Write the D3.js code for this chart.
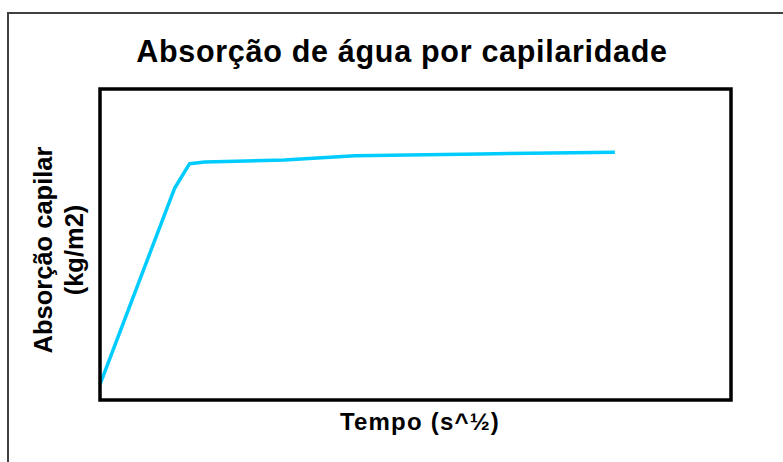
<!DOCTYPE html>
<html>
<head>
<meta charset="utf-8">
<script src="https://cdn.jsdelivr.net/npm/d3@7"></script>
<style>
  body { margin: 0; background: #fff; }
  svg text { font-family: "Liberation Sans", Arial, sans-serif; font-weight: bold; fill: #000; }
</style>
</head>
<body>
<svg id="chart"></svg>
<script>
// values (no ticks shown, so units are estimated)
var tempo = [0, 5.9, 7.1, 8.3, 14.6, 20.2, 30.1, 40.8];
var absorcao = [0.5, 6.8, 7.6, 7.65, 7.72, 7.85, 7.91, 7.97];
var titulo = "Absorção de água por capilaridade";
var eixoX = "Tempo (s^½)";
var eixoY = ["Absorção capilar", "(kg/m2)"];

var W = 783, H = 462;
var margin = {top: 89, right: 52, bottom: 62, left: 100},
	width = W - margin.left - margin.right,
	height = H - margin.top - margin.bottom;

var svg = d3.select("#chart")
	.attr("width", W)
	.attr("height", H);

// outer frame (runs past the right and bottom edges)
svg.append("rect")
	.attr("x", 8).attr("y", 13)
	.attr("width", 820).attr("height", 520)
	.attr("fill", "none")
	.attr("stroke", "#404040")
	.attr("stroke-width", 2);

var x = d3.scaleLinear().domain([0, 50]).range([0, width]);
var y = d3.scaleLinear().domain([0, 10]).range([height, 0]);

var g = svg.append("g")
	.attr("transform", "translate(" + margin.left + "," + margin.top + ")");

var data = tempo.map(function(t, i) { return {t: t, a: absorcao[i]}; });

var line = d3.line()
	.x(function(d) { return x(d.t); })
	.y(function(d) { return y(d.a); });

g.append("path")
	.attr("d", line(data))
	.attr("fill", "none")
	.attr("stroke", "#00ccff")
	.attr("stroke-width", 3.5)
	.attr("stroke-linejoin", "round");

// plot box
g.append("rect")
	.attr("width", width)
	.attr("height", height)
	.attr("fill", "none")
	.attr("stroke", "#000")
	.attr("stroke-width", 3.5);

// title
svg.append("text")
	.attr("x", 402).attr("y", 62)
	.attr("text-anchor", "middle")
	.style("font-size", "30.5px")
	.style("letter-spacing", "0.7px")
	.text(titulo);

// x label
svg.append("text")
	.attr("x", 420).attr("y", 430)
	.attr("text-anchor", "middle")
	.style("font-size", "24px")
	.style("letter-spacing", "1.2px")
	.text(eixoX);

// y label, two lines
var yl = svg.append("text")
	.attr("transform", "translate(52,250) rotate(-90)")
	.attr("text-anchor", "middle")
	.style("font-size", "25.5px");
yl.selectAll("tspan")
	.data(eixoY)
	.enter().append("tspan")
	.attr("x", 0)
	.attr("dy", function(d, i) { return i === 0 ? 0 : "1.2em"; })
	.text(function(d) { return d; });
</script>
</body>
</html>
